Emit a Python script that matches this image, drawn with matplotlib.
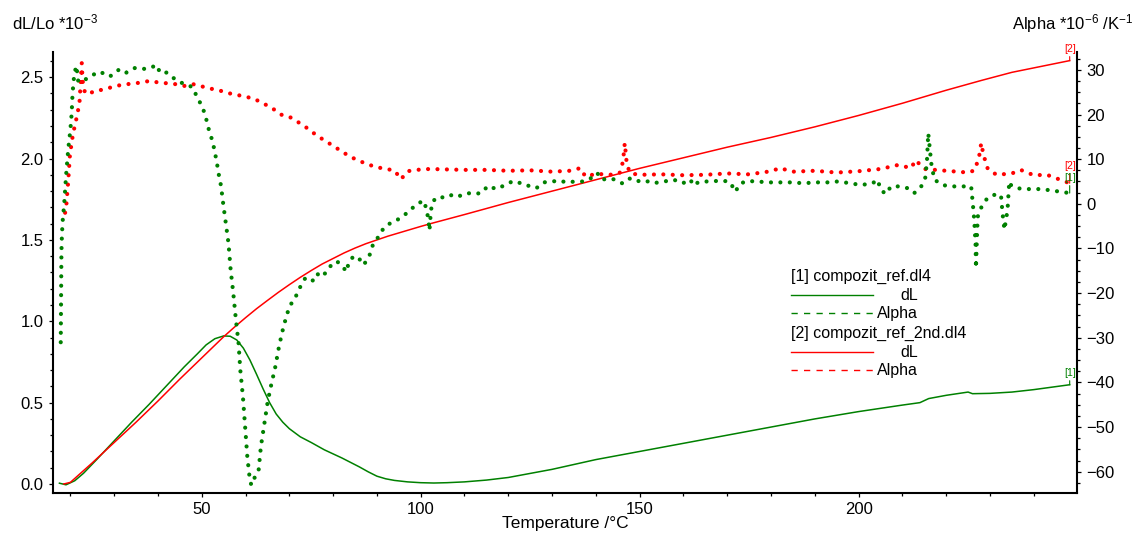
import matplotlib
matplotlib.use('Agg')
import matplotlib.pyplot as plt
from matplotlib.lines import Line2D
from matplotlib.ticker import MultipleLocator, FormatStrFormatter

plt.rcParams['font.family'] = ['Liberation Sans', 'DejaVu Sans']
plt.rcParams['mathtext.default'] = 'regular'

# ---------------- data ----------------
# [2] compozit_ref_2nd.dl4 : dL/Lo (*1e-3) vs temperature
red_dl_T = [18.5, 20, 25, 30, 35, 40, 45, 50, 52.5, 55, 57.5, 60, 62.5, 65, 67.5,
            70, 72.5, 75, 77.5, 80, 82.5, 85, 87.5, 90, 92.5, 95, 97.5, 100, 102.5,
            105, 107.5, 110, 120, 130, 140, 150, 160, 170, 180, 190, 200, 210, 220,
            228, 235, 248.2]
red_dl_v = [0.0, 0.01, 0.13, 0.255, 0.38, 0.51, 0.645, 0.775, 0.84, 0.905, 0.965,
            1.022, 1.077, 1.128, 1.178, 1.225, 1.27, 1.312, 1.352, 1.386, 1.42, 1.45,
            1.477, 1.50, 1.523, 1.543, 1.563, 1.583, 1.602, 1.62, 1.638, 1.656, 1.73,
            1.80, 1.87, 1.94, 2.005, 2.07, 2.13, 2.195, 2.265, 2.34, 2.42, 2.48,
            2.53, 2.602]

# [1] compozit_ref.dl4 : dL/Lo (*1e-3)
green_dl_T = [17.5, 19, 21, 23, 26, 30, 34, 38, 42, 46, 49, 51, 53, 55, 56.5, 58,
              59.5, 61, 62.5, 64, 65.5, 67, 68.5, 70, 72.5, 75, 78, 82, 86, 88, 90,
              92, 94, 97, 100, 103, 106, 110, 115, 120, 130, 140, 150, 160, 170, 180,
              190, 200, 210, 214, 216, 220, 225, 226, 230, 235, 240, 248.2]
green_dl_v = [0.005, -0.005, 0.02, 0.066, 0.15, 0.265, 0.38, 0.49, 0.605, 0.72, 0.80,
              0.855, 0.893, 0.91, 0.908, 0.885, 0.835, 0.762, 0.675, 0.585, 0.50,
              0.43, 0.38, 0.34, 0.29, 0.255, 0.21, 0.16, 0.105, 0.075, 0.048, 0.032,
              0.022, 0.013, 0.008, 0.006, 0.008, 0.013, 0.024, 0.04, 0.09, 0.15, 0.20,
              0.25, 0.30, 0.35, 0.40, 0.445, 0.485, 0.50, 0.525, 0.545, 0.565, 0.555,
              0.557, 0.565, 0.58, 0.61]

# [2] Alpha (*1e-6 /K)
red_a_T = [18.8, 19.1, 19.5, 19.9, 20.5, 21.0, 21.6, 22.1, 22.4, 22.6, 22.8, 23.3,
           24.1, 25.5, 27, 29, 31, 33, 35, 38, 40, 42, 44, 46, 48, 50, 52, 54, 56,
           58, 60, 62, 64, 66, 68, 70, 72, 74, 76, 78, 80, 82, 84, 86, 88, 90, 92,
           94, 95.5, 97, 99, 102, 106, 110, 115, 120, 125, 130, 134, 136.5, 137.6,
           140, 144, 145.5, 146.2, 146.6, 147.1, 148, 150, 155, 160, 165, 170, 175,
           180, 182, 185, 190, 195, 200, 205, 209, 212, 213, 215, 220, 225, 226.5,
           227.5, 228, 228.5, 229.5, 231.5, 235, 237, 240, 243, 248.2]
red_a_v = [-2, 0, 5, 11, 15, 17.5, 20, 23, 28, 31.5, 27.5, 25, 24.5, 25.3, 25.5, 26,
           26.5, 26.8, 27, 27.5, 27.2, 27, 26.8, 26.4, 26.8, 26.3, 25.8, 25.4, 24.8,
           24.4, 24, 23.5, 22.5, 21.5, 20, 19.5, 18.3, 17, 15.5, 14.2, 13, 11.7,
           10.5, 9.6, 8.8, 8.2, 7.8, 7.5, 5.5, 7.3, 7.6, 7.8, 7.7, 7.6, 7.6, 7.4,
           7.5, 7.2, 7.4, 8.0, 6.1, 6.7, 6.5, 7.0, 9.5, 13.6, 8.5, 6.8, 6.5, 6.6,
           6.4, 6.5, 6.8, 6.6, 7.3, 8.0, 7.2, 7.4, 7.0, 7.3, 7.8, 8.7, 8.0, 9.8,
           7.8, 7.4, 7.0, 7.5, 10.5, 13.6, 11, 7.8, 6.5, 6.8, 7.6, 6.4, 6.5, 4.6]

# [1] Alpha (*1e-6 /K)
green_a_T = [17.8, 17.85, 17.9, 17.95, 18.0, 18.2, 18.6, 19.0, 19.5, 20.0, 20.3, 20.5,
             20.8, 21.3, 21.6, 21.8, 22.9, 24.0, 25.2, 26.7, 29.0, 31.3, 32.8, 34.7,
             36.6, 38.2, 39.7, 40.5, 42.0, 43.9, 45.8, 47.2, 48.1, 48.9, 50.0, 50.8,
             51.5, 52.1, 52.8, 53.4, 53.9, 54.4, 54.9, 55.3, 55.8, 56.1, 56.6, 57.2,
             57.8, 58.4, 58.8, 59.4, 59.9, 60.4, 60.9, 61.3, 62.0, 62.6, 63.0, 63.5,
             64.2, 65.0, 65.6, 66.8, 67.5, 68.3, 69.4, 70.2, 71.3, 72.1, 73.6, 75.2,
             76.3, 77.2, 78.6, 79.7, 80.9, 82.0, 83.1, 83.5, 84.6, 85.8, 86.8, 87.6,
             88.5, 89.1, 90.4, 91.5, 93.1, 94.5, 96.3, 97.6, 99.2, 100.7, 101.4,
             101.8, 102.0, 102.3, 102.6, 103.7, 106.0, 107.5, 109.0, 110.6, 112.5,
             114.0, 115.3, 117.3, 118.6, 120.9, 122.0, 123.5, 124.9, 126.4, 128.1,
             130.0, 131.9, 133.1, 135.4, 137.3, 138.8, 140.3, 141.4, 143.0, 144.5,
             146.0, 147.6, 149.1, 151.0, 153.0, 155.6, 157.8, 159.8, 161.7, 162.0,
             163.9, 166.2, 168.5, 170.4, 171.2, 171.8, 173.1, 174.6, 176.9, 179.2,
             181.5, 184.5, 187.6, 189.9, 192.9, 195.2, 198.2, 200.5, 203.2, 204.3,
             205.1, 206.2, 207.4, 209.3, 211.2, 212.7, 214.3, 215.2, 215.6, 215.9,
             216.3, 216.6, 217.3, 219.2, 221.1, 223.8, 225.7, 226.1, 226.4, 226.7,
             226.8, 227.0, 227.2, 227.9, 229.4, 231.0, 232.5, 232.9, 233.3, 234.0,
             234.4, 234.8, 235.9, 238.6, 241.7, 244.7, 248.2]
green_a_v = [-31, -24, -17, -12, -8.8, -4.3, 0.1, 6.1, 12.1, 16.6, 20.3, 24.8, 28.1,
             30.9, 29.3, 27.4, 27.4, 28.3, 28.9, 29.6, 28.5, 30.2, 29.4, 30.4, 30.2,
             30.4, 31.1, 29.3, 29.4, 27.9, 26.9, 26.5, 25.8, 23.9, 22.0, 19.9, 17.0,
             15.2, 12.5, 9.5, 6.5, 4.0, 0.0, -2.9, -6.5, -8.8, -14.8, -20.0, -26.0,
             -31.2, -37.2, -43.2, -49.9, -56.6, -61.1, -63.0, -61.5, -60.0, -59.5,
             -54.4, -49.9, -44.7, -41.7, -36.5, -32.7, -29.0, -24.9, -22.7, -21.2,
             -19.3, -16.7, -17.4, -15.6, -16.4, -15.2, -13.5, -12.9, -13.9, -15.2,
             -13.3, -11.8, -12.0, -13.7, -12.9, -11.1, -9.1, -7.3, -5.5, -4.3, -3.7,
             -2.5, -1.4, 0.0, 0.7, -1.5, -4.0, -6.0, -2.0, 0.3, 1.5, 1.4, 2.2, 1.8,
             2.4, 2.2, 2.5, 4.0, 3.3, 3.9, 5.0, 5.0, 4.2, 4.0, 3.5, 4.8, 5.0, 5.2,
             4.8, 5.0, 5.0, 5.7, 6.9, 5.4, 5.7, 5.4, 4.6, 5.7, 5.0, 5.3, 4.6, 5.0,
             5.4, 4.6, 5.4, 4.2, 5.0, 5.0, 5.2, 5.0, 3.9, 2.7, 4.6, 5.1, 5.0, 4.8,
             4.8, 4.8, 4.6, 4.8, 4.8, 5.0, 4.6, 4.2, 4.6, 5.4, 3.1, 2.2, 3.9, 3.9,
             3.5, 2.4, 3.9, 5.7, 9.5, 15.8, 12.0, 9.0, 5.4, 4.2, 3.9, 3.9, 3.9, -0.2,
             -3.6, -9.0, -14.4, -8.0, -2.9, -1.0, 1.3, 2.0, 2.0, -2.5, -5.8, -1.4,
             5.0, 4.2, 3.5, 3.3, 3.3, 2.9, 2.4]

x_ticks = [50, 100, 150, 200]
yl_ticks = [0.0, 0.5, 1.0, 1.5, 2.0, 2.5]
yr_ticks = [-60, -50, -40, -30, -20, -10, 0, 10, 20, 30]

GREEN = '#008000'
RED = '#ff0000'

# ---------------- figure ----------------
W, H = 1135, 534
fig = plt.figure(figsize=(W / 100, H / 100), dpi=100)
L, R, B, T = 53.3, 1076.7, 492.7, 52.0
ax = fig.add_axes([L / W, 1 - B / H, (R - L) / W, (B - T) / H])
ax2 = ax.twinx()

ax.set_xlim(16.1, 249.8)
ax.set_ylim(-0.0535, 2.655)
ax2.set_ylim(-64.7, 34.0)

ax.plot(green_dl_T, green_dl_v, color=GREEN, lw=1.1, zorder=3)
ax.plot(red_dl_T, red_dl_v, color=RED, lw=1.1, zorder=3)
dot = (0, (0.01, 2.25))
ax2.plot(red_a_T, red_a_v, color=RED, lw=3.0, linestyle=dot,
         dash_capstyle='round')
ax2.plot(green_a_T, green_a_v, color=GREEN, lw=3.0, linestyle=dot,
         dash_capstyle='round')

# spines
for a in (ax, ax2):
    a.spines['top'].set_visible(False)
    a.patch.set_visible(False)
ax.spines['right'].set_visible(False)
ax2.spines['left'].set_visible(False)
ax2.spines['bottom'].set_visible(False)
for s in ('left', 'bottom'):
    ax.spines[s].set_linewidth(1.5)
ax2.spines['right'].set_linewidth(1.5)

ax.set_xticks(x_ticks)
ax.xaxis.set_minor_locator(MultipleLocator(10))
ax.set_yticks(yl_ticks)
ax.yaxis.set_minor_locator(MultipleLocator(0.1))
ax.yaxis.set_major_formatter(FormatStrFormatter('%.1f'))
ax2.set_yticks(yr_ticks)
ax2.yaxis.set_minor_locator(MultipleLocator(2.5))

for a in (ax, ax2):
    a.tick_params(which='major', direction='out', length=3, width=0.9,
                  labelsize=12, pad=4)
    a.tick_params(which='minor', direction='out', length=2, width=0.9)

ax.set_xlabel('Temperature /°C', fontsize=12.5)
ax.xaxis.set_label_coords(0.5, -0.071)
ax.xaxis.label.set_va('center')

fig.text(11.7 / W, 1 - 29.3 / H, r'dL/Lo *10$^{-3}$', fontsize=12,
         ha='left', va='baseline')
fig.text(1133 / W, 1 - 29.3 / H, r'Alpha *10$^{-6}$ /K$^{-1}$', fontsize=12,
         ha='right', va='baseline')

# end labels
def end_label(a, x, y, txt, color, dy):
    a.annotate(txt, xy=(x, y), xytext=(0, dy), textcoords='offset points',
               ha='center', va='center', fontsize=7.5, color=color,
               arrowprops=dict(arrowstyle='-', color=color, lw=0.8,
                               shrinkA=0, shrinkB=0))

end_label(ax, red_dl_T[-1], red_dl_v[-1], '[2]', RED, 8.5)
end_label(ax, green_dl_T[-1], green_dl_v[-1], '[1]', GREEN, 8.5)
end_label(ax2, red_a_T[-1], red_a_v[-1], '[2]', RED, 12.5)
end_label(ax2, green_a_T[-1], green_a_v[-1], '[1]', GREEN, 11)

# legend (drawn manually, like the instrument software)
def fx(px):
    return px / W

def fy(py):
    return 1 - py / H

FS = 11.5
lx0, lx1, tx = 790.7, 872.5, 918.3
fig.text(fx(lx0), fy(276.7), '[1] compozit_ref.dl4', fontsize=FS,
         ha='left', va='center')
fig.add_artist(Line2D([fx(lx0), fx(lx1)], [fy(295), fy(295)], color=GREEN, lw=1.0))
fig.text(fx(tx), fy(295.5), 'dL', fontsize=FS, ha='right', va='center')
fig.add_artist(Line2D([fx(lx0), fx(lx1)], [fy(313.3), fy(313.3)], color=GREEN,
                      lw=1.0, linestyle=(0, (4.5, 4.5))))
fig.text(fx(tx), fy(313.3), 'Alpha', fontsize=FS, ha='right', va='center')
fig.text(fx(lx0), fy(333.3), '[2] compozit_ref_2nd.dl4', fontsize=FS,
         ha='left', va='center')
fig.add_artist(Line2D([fx(lx0), fx(lx1)], [fy(351.7), fy(351.7)], color=RED, lw=1.0))
fig.text(fx(tx), fy(352.2), 'dL', fontsize=FS, ha='right', va='center')
fig.add_artist(Line2D([fx(lx0), fx(lx1)], [fy(370), fy(370)], color=RED,
                      lw=1.0, linestyle=(0, (4.5, 4.5))))
fig.text(fx(tx), fy(370), 'Alpha', fontsize=FS, ha='right', va='center')

fig.savefig('out.png', dpi=100)
